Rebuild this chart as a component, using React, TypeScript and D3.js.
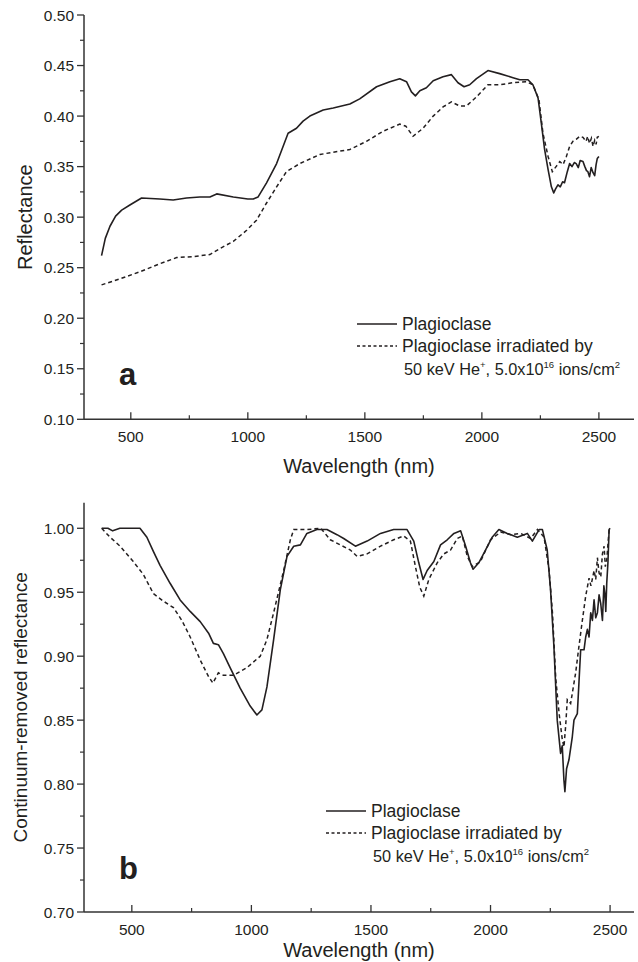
import React from "react";
import * as d3 from "d3";

// ---------- Data ----------
const topSolidW = [375,391,411,435,461,496,546,624,681,738,795,838,867,938,1000,1023,1044,1080,1123,1172,1208,1236,1265,1322,1365,1436,1478,1550,1607,1649,1678,1699,1716,1735,1763,1792,1834,1870,1898,1924,1948,1977,2026,2076,2133,2162,2197,2218,2240,2254,2268,2283,2297,2307,2315,2325,2335,2345,2353,2365,2375,2385,2395,2403,2412,2420,2432,2440,2447,2453,2460,2467,2475,2482,2488,2493,2500];
const topSolidV = [.262,.279,.291,.301,.307,.312,.319,.318,.317,.319,.320,.320,.323,.320,.318,.318,.320,.334,.353,.383,.388,.395,.400,.406,.408,.412,.417,.429,.434,.437,.434,.424,.420,.425,.428,.435,.439,.441,.433,.429,.431,.437,.445,.442,.438,.436,.436,.431,.418,.393,.367,.347,.330,.324,.328,.332,.330,.335,.334,.345,.353,.350,.354,.353,.349,.356,.355,.350,.346,.345,.340,.349,.344,.341,.352,.358,.360];

const topDashW = [375,454,539,625,696,767,838,881,938,995,1037,1080,1123,1165,1222,1308,1436,1507,1578,1649,1675,1706,1749,1792,1834,1870,1905,1934,1977,2026,2076,2133,2190,2218,2244,2261,2283,2301,2317,2333,2347,2361,2375,2389,2403,2418,2432,2445,2452,2460,2468,2475,2482,2488,2493,2500];
const topDashV = [.233,.239,.246,.254,.260,.261,.263,.269,.276,.287,.297,.314,.330,.345,.353,.362,.367,.375,.385,.392,.390,.380,.388,.400,.409,.414,.410,.410,.419,.431,.431,.433,.434,.431,.416,.383,.360,.345,.350,.355,.352,.360,.370,.375,.377,.380,.379,.375,.380,.373,.378,.370,.376,.372,.379,.380];

const botSolidW = [374,400,420,450,500,534,563,590,618,660,702,744,786,821,841,862,883,911,953,995,1023,1044,1065,1093,1121,1149,1177,1205,1232,1274,1316,1358,1386,1435,1484,1540,1595,1651,1679,1700,1718,1735,1763,1791,1819,1847,1875,1896,1916,1927,1951,1979,2007,2035,2070,2112,2154,2175,2203,2217,2237,2251,2265,2279,2293,2300,2307,2311,2318,2328,2342,2349,2363,2370,2377,2391,2398,2405,2412,2419,2426,2433,2440,2447,2454,2461,2468,2474,2478,2482,2486,2491,2496,2500];
const botSolidV = [1.000,1.000,.998,1.000,1.000,1.000,.993,.982,.971,.957,.944,.935,.927,.918,.910,.909,.902,.891,.875,.861,.854,.858,.876,.913,.952,.978,.986,.987,.996,.999,.999,.995,.992,.986,.990,.996,.999,.999,.990,.973,.960,.967,.974,.987,.991,.996,.998,.986,.973,.968,.973,.983,.993,.999,.996,.993,.996,.990,.999,.999,.983,.952,.908,.850,.824,.830,.803,.794,.812,.819,.837,.850,.855,.880,.905,.905,.915,.921,.915,.934,.928,.944,.930,.934,.948,.941,.928,.955,.949,.935,.957,.973,.999,1.000];

const botDashW = [374,409,451,506,548,590,632,674,709,744,786,821,839,862,883,925,981,1037,1065,1093,1135,1163,1177,1232,1290,1330,1372,1414,1442,1484,1540,1595,1637,1665,1686,1704,1721,1742,1777,1805,1833,1861,1882,1903,1924,1958,2000,2042,2084,2126,2168,2196,2224,2245,2259,2273,2287,2300,2307,2314,2321,2335,2356,2370,2384,2398,2412,2420,2433,2440,2447,2454,2461,2468,2475,2480,2486,2492,2496,2500];
const botDashV = [1.000,.993,.986,.974,.964,.949,.943,.938,.928,.915,.897,.884,.879,.887,.885,.885,.891,.900,.913,.934,.967,.991,.999,.999,1.000,.991,.987,.983,.978,.980,.986,.991,.994,.990,.970,.954,.947,.960,.973,.980,.983,.992,.994,.978,.970,.974,.991,.997,.995,.996,.992,.999,.993,.967,.934,.882,.855,.835,.829,.845,.866,.863,.887,.908,.928,.947,.961,.955,.967,.960,.977,.965,.962,.980,.986,.970,.975,.990,.999,1.000];

const xTicks = [500, 1000, 1500, 2000, 2500];
const xMinor = [750, 1250, 1750, 2250];
const topYTicks = [0.10, 0.15, 0.20, 0.25, 0.30, 0.35, 0.40, 0.45, 0.50];
const botYTicks = [0.70, 0.75, 0.80, 0.85, 0.90, 0.95, 1.00];

const legendSolid = "Plagioclase";
const legendDash = "Plagioclase irradiated by";

const FONT = "'Liberation Sans', Arial, sans-serif";
const INK = "#231f20";

type PanelProps = {
  xDomain: [number, number];
  yDomain: [number, number];
  top: number;
  bottom: number;
  yTicks: number[];
  yMinorStep: number;
  solidW: number[]; solidV: number[];
  dashW: number[]; dashV: number[];
  yTitle: string; yTitleSize: number; yTitleX: number;
  letter: string; letterY: number;
  legendX: number; legendY: number;
  xTitleY: number;
};

function Panel(p: PanelProps) {
  const left = 84;
  const right = 634;
  const x = d3.scaleLinear().domain(p.xDomain).range([left, right]);
  const y = d3.scaleLinear().domain(p.yDomain).range([p.bottom, p.top]);
  const line = d3.line<[number, number]>().x(d => x(d[0])).y(d => y(d[1]));
  const solid = line(p.solidW.map((w, i) => [w, p.solidV[i]] as [number, number])) || "";
  const dash = line(p.dashW.map((w, i) => [w, p.dashV[i]] as [number, number])) || "";
  const yMinor: number[] = [];
  for (let v = p.yDomain[0] + p.yMinorStep; v < p.yDomain[1] - 1e-6; v += p.yMinorStep * 2) yMinor.push(v);
  const lx = p.legendX, ly = p.legendY;
  return (
    <g>
      <path d={solid} fill="none" stroke={INK} strokeWidth={1.6} strokeLinejoin="round" />
      <path d={dash} fill="none" stroke={INK} strokeWidth={1.5} strokeDasharray="4,3" />
      {/* axes */}
      <line x1={left} x2={left} y1={y(p.yDomain[1])} y2={p.bottom} stroke="#333" strokeWidth={1.5} />
      <line x1={left} x2={right} y1={p.bottom} y2={p.bottom} stroke="#333" strokeWidth={1.5} />
      {p.yTicks.map(t => (
        <g key={"y" + t}>
          <line x1={left - 7} x2={left} y1={y(t)} y2={y(t)} stroke="#333" strokeWidth={1.3} />
          <text x={74} y={y(t)} dy="0.36em" textAnchor="end" fontSize={15.5} fontFamily={FONT} fill={INK}>{t.toFixed(2)}</text>
        </g>
      ))}
      {yMinor.map(t => (
        <line key={"ym" + t} x1={left - 4} x2={left} y1={y(t)} y2={y(t)} stroke="#333" strokeWidth={1.2} />
      ))}
      {xTicks.map(t => (
        <g key={"x" + t}>
          <line x1={x(t)} x2={x(t)} y1={p.bottom - 7} y2={p.bottom} stroke="#333" strokeWidth={1.3} />
          <text x={x(t)} y={p.bottom + 23} textAnchor="middle" fontSize={15.5} fontFamily={FONT} fill={INK}>{t}</text>
        </g>
      ))}
      {xMinor.map(t => (
        <line key={"xm" + t} x1={x(t)} x2={x(t)} y1={p.bottom - 4} y2={p.bottom} stroke="#333" strokeWidth={1.2} />
      ))}
      <text x={(left + right) / 2} y={p.xTitleY} textAnchor="middle" fontSize={20} fontFamily={FONT} fill={INK}>Wavelength (nm)</text>
      <text transform={`translate(${p.yTitleX},${(y(p.yDomain[1]) + p.bottom) / 2}) rotate(-90)`} textAnchor="middle" fontSize={p.yTitleSize} fontFamily={FONT} fill={INK}>{p.yTitle}</text>
      <text x={119} y={p.letterY} fontSize={31} fontWeight="bold" fontFamily={FONT} fill={INK}>{p.letter}</text>
      {/* legend */}
      <line x1={lx} x2={lx + 40} y1={ly} y2={ly} stroke={INK} strokeWidth={1.5} />
      <text x={lx + 45} y={ly + 6} fontSize={17.5} fontFamily={FONT} fill={INK}>{legendSolid}</text>
      <line x1={lx} x2={lx + 40} y1={ly + 22} y2={ly + 22} stroke={INK} strokeWidth={1.5} strokeDasharray="3,2.5" />
      <text x={lx + 45} y={ly + 28} fontSize={17.5} fontFamily={FONT} fill={INK}>{legendDash}</text>
      <text x={lx + 47} y={ly + 51} fontSize={16.3} fontFamily={FONT} fill={INK}>
        50 keV He<tspan dy={-7} fontSize={9.5}>+</tspan><tspan dy={7}>, 5.0x10</tspan><tspan dy={-7} fontSize={9.5}>16</tspan><tspan dy={7}> ions/cm</tspan><tspan dy={-7} fontSize={9.5}>2</tspan>
      </text>
    </g>
  );
}

export default function App() {
  return (
    <svg width={638} height={962} style={{ position: "absolute", left: 0, top: 0, background: "#fff" }}>
      <rect width={638} height={962} fill="#fff" />
      <Panel
        xDomain={[300, 2650]} yDomain={[0.10, 0.50]} top={15} bottom={419.3}
        yTicks={topYTicks} yMinorStep={0.025}
        solidW={topSolidW} solidV={topSolidV} dashW={topDashW} dashV={topDashV}
        yTitle="Reflectance" yTitleSize={20} yTitleX={32}
        letter="a" letterY={385}
        legendX={357} legendY={324}
        xTitleY={473}
      />
      <Panel
        xDomain={[300, 2600]} yDomain={[0.70, 1.02]} top={502.7} bottom={912}
        yTicks={botYTicks} yMinorStep={0.025}
        solidW={botSolidW} solidV={botSolidV} dashW={botDashW} dashV={botDashV}
        yTitle="Continuum-removed reflectance" yTitleSize={19} yTitleX={27}
        letter="b" letterY={879}
        legendX={326} legendY={811}
        xTitleY={957}
      />
    </svg>
  );
}
